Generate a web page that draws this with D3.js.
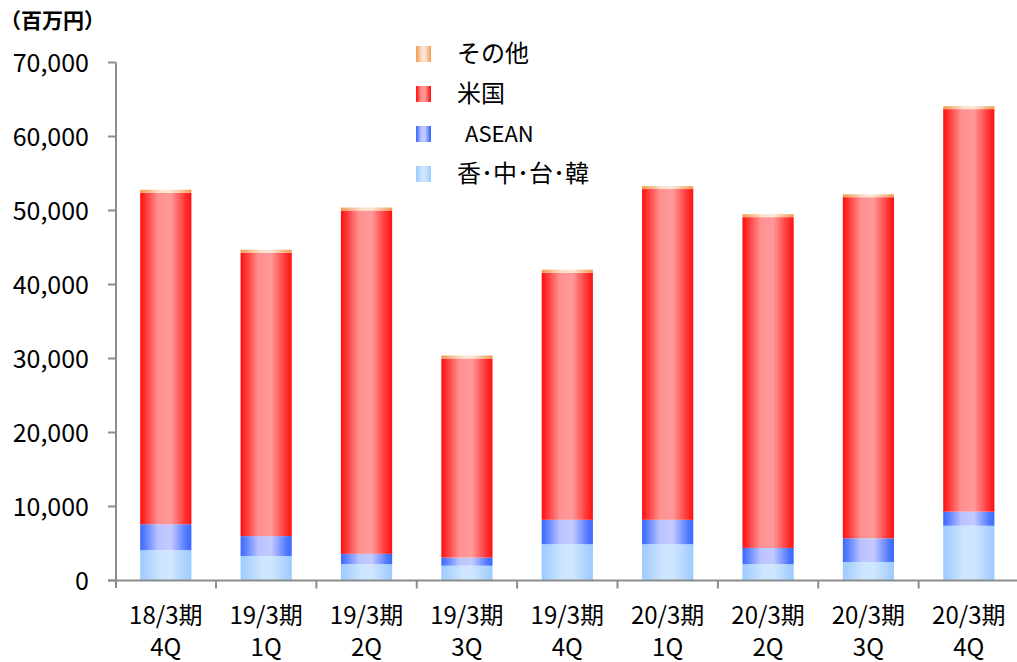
<!DOCTYPE html>
<html><head><meta charset="utf-8">
<script src="https://cdn.jsdelivr.net/npm/d3@7"></script>
<style>
html,body{margin:0;padding:0;background:#fff;}
svg{display:block;}
text{font-family:"Noto Sans CJK JP","Noto Sans",sans-serif;fill:#000;}
</style></head>
<body>
<svg id="chart" width="1017" height="662"></svg>
<script>
const categories = ["18/3期|4Q","19/3期|1Q","19/3期|2Q","19/3期|3Q","19/3期|4Q","20/3期|1Q","20/3期|2Q","20/3期|3Q","20/3期|4Q"];
const seriesNames = ["香･中･台･韓","ASEAN","米国","その他"];
const asiaEast = [4100, 3300, 2200, 2000, 4900, 4900, 2200, 2500, 7400];
const asean    = [3500, 2700, 1400, 1100, 3300, 3300, 2200, 3200, 1900];
const usa      = [44800, 38300, 46400, 26900, 33400, 44700, 44700, 46100, 54400];
const other    = [400, 400, 400, 400, 400, 400, 400, 400, 400];
const yTicks   = [0, 10000, 20000, 30000, 40000, 50000, 60000, 70000];
const unitLabel = "（百万円）";

const values = [asiaEast, asean, usa, other];
const gradStops = [
  [[0,"#9ccaff"],[0.4,"#cde5ff"],[0.6,"#d0e6ff"],[1,"#9ccaff"]],
  [[0,"#3b68ff"],[0.1,"#5a80ff"],[0.35,"#b9c3ff"],[0.6,"#c3caff"],[0.9,"#5078ff"],[1,"#3b68ff"]],
  [[0,"#ff0c0c"],[0.08,"#ff2b2b"],[0.35,"#ff9090"],[0.6,"#ff9999"],[0.88,"#ff3434"],[1,"#ff1010"]],
  [[0,"#f39a4f"],[0.4,"#fde0cc"],[0.6,"#fde6d6"],[1,"#f39a4f"]]
];

const svg = d3.select("#chart");
const defs = svg.append("defs");
gradStops.forEach((st,i)=>{
  const g = defs.append("linearGradient").attr("id","g"+i).attr("x1","0").attr("x2","1").attr("y1","0").attr("y2","0");
  st.forEach(s=>g.append("stop").attr("offset",s[0]).attr("stop-color",s[1]));
});

const x0 = 115.6, x1 = 1019;
const y = d3.scaleLinear().domain([0,70000]).range([580.5,62.5]);
const x = d3.scaleBand().domain(categories).range([x0,x1]).paddingInner(0.49).paddingOuter(0.245);
const xb = d3.scaleBand().domain(categories).range([x0,x1]).padding(0);

const stackData = categories.map((c,i)=>{const o={cat:c}; seriesNames.forEach((s,j)=>o[s]=values[j][i]); return o;});
const stack = d3.stack().keys(seriesNames)(stackData);

svg.append("g").selectAll("g").data(stack).join("g")
  .attr("fill",(d,i)=>"url(#g"+i+")")
  .selectAll("rect").data(d=>d).join("rect")
  .attr("x",d=>x(d.data.cat)).attr("width",x.bandwidth())
  .attr("y",d=>y(d[1])).attr("height",d=>y(d[0])-y(d[1]));

// axes
const axisColor = "#8c8c8c";
const ax = svg.append("g");
ax.append("line").attr("x1",116).attr("x2",116).attr("y1",y(70000)).attr("y2",y(0)+7.5).attr("stroke",axisColor).attr("stroke-width",2);
ax.append("line").attr("x1",108).attr("x2",1017).attr("y1",y(0)).attr("y2",y(0)).attr("stroke",axisColor).attr("stroke-width",2);
ax.selectAll("line.yt").data(yTicks).join("line").attr("class","yt")
  .attr("x1",108).attr("x2",116).attr("y1",d=>y(d)).attr("y2",d=>y(d)).attr("stroke",axisColor).attr("stroke-width",2);
ax.selectAll("text.yl").data(yTicks).join("text").attr("class","yl")
  .attr("x",89).attr("y",d=>y(d)+9).attr("text-anchor","end").attr("font-size",25)
  .text(d=>d3.format(",")(d));
const bounds = categories.map(c=>xb(c)).slice(1);
ax.selectAll("line.xt").data(bounds).join("line").attr("class","xt")
  .attr("x1",d=>d).attr("x2",d=>d).attr("y1",y(0)).attr("y2",y(0)+8).attr("stroke",axisColor).attr("stroke-width",2);
const xl = ax.selectAll("text.xl").data(categories).join("text").attr("class","xl")
  .attr("text-anchor","middle").attr("font-size",24);
xl.append("tspan").attr("x",c=>x(c)+x.bandwidth()/2).attr("y",624).text(c=>c.split("|")[0]);
xl.append("tspan").attr("x",c=>x(c)+x.bandwidth()/2).attr("y",656).text(c=>c.split("|")[1]);

svg.append("text").attr("x",0).attr("y",28).attr("font-size",21).attr("font-weight","bold").text(unitLabel);

// legend
const legendOrder = [3,2,1,0];
const lg = svg.append("g");
legendOrder.forEach((si,k)=>{
  const cy = 54 + k*40;
  lg.append("rect").attr("x",416).attr("y",cy-8).attr("width",15).attr("height",16).attr("fill","url(#g"+si+")");
  lg.append("text").attr("x", si===1 ? 465 : 457).attr("y",cy+8).attr("font-size",si===1?22:24).text(seriesNames[si]);
});
</script>
</body></html>
